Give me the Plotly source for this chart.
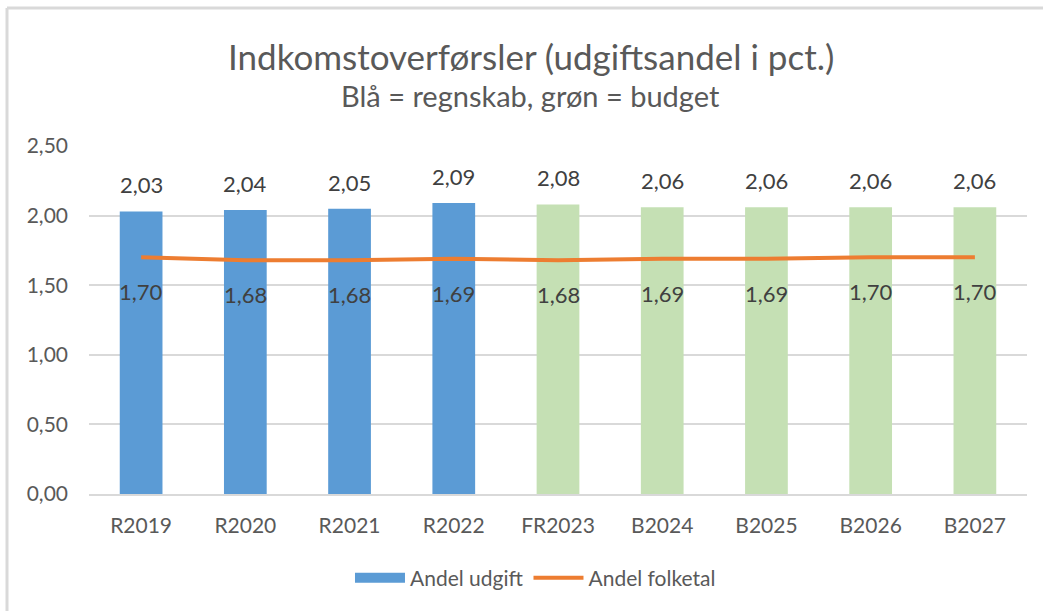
import plotly.graph_objects as go

categories = ["R2019", "R2020", "R2021", "R2022", "FR2023", "B2024", "B2025", "B2026", "B2027"]
andel_udgift = [2.03, 2.04, 2.05, 2.09, 2.08, 2.06, 2.06, 2.06, 2.06]
andel_folketal = [1.70, 1.68, 1.68, 1.69, 1.68, 1.69, 1.69, 1.70, 1.70]
y_ticks = [0.0, 0.5, 1.0, 1.5, 2.0, 2.5]

BLUE = "#5B9BD5"
GREEN = "#C5E0B4"
ORANGE = "#ED7D31"
FONT = "Lato, Carlito, Liberation Sans, sans-serif"

bar_colors = [BLUE if c.startswith("R") else GREEN for c in categories]

def fmt(v):
    return f"{v:.2f}".replace(".", ",")

fig = go.Figure()
fig.add_trace(go.Bar(
    x=categories, y=andel_udgift, name="Andel udgift",
    marker=dict(color=bar_colors, line=dict(width=0)),
    width=0.41, hoverinfo="skip", showlegend=False,
))
fig.add_trace(go.Scatter(
    x=[None], y=[None], name="Andel udgift", mode="lines",
    line=dict(color=BLUE, width=12), hoverinfo="skip",
))
fig.add_trace(go.Scatter(
    x=categories, y=andel_folketal, name="Andel folketal",
    mode="lines", line=dict(color=ORANGE, width=4),
    hoverinfo="skip",
))

annotations = []
for c, v in zip(categories, andel_udgift):
    annotations.append(dict(x=c, y=v, xref="x", yref="y", text=fmt(v), showarrow=False,
                            yanchor="bottom", yshift=11,
                            font=dict(family=FONT, size=22, color="#404040")))
for c, v in zip(categories, andel_folketal):
    annotations.append(dict(x=c, y=v, xref="x", yref="y", text=fmt(v), showarrow=False,
                            yanchor="top", yshift=-19,
                            font=dict(family=FONT, size=22, color="#404040")))
annotations.append(dict(x=0.471, y=1.0 + (146 - 56) / 348, xref="paper", yref="paper",
                        text="Indkomstoverførsler (udgiftsandel i pct.)", showarrow=False,
                        xanchor="center", yanchor="middle",
                        font=dict(family=FONT, size=35, color="#595959")))
annotations.append(dict(x=0.471, y=1.0 + (146 - 96) / 348, xref="paper", yref="paper",
                        text="Blå = regnskab, grøn = budget", showarrow=False,
                        xanchor="center", yanchor="middle",
                        font=dict(family=FONT, size=29, color="#595959")))

shapes = [
    dict(type="line", xref="paper", yref="paper", x0=(7 - 89) / 938, x1=(1043 - 89) / 938,
         y0=1 + (146 - 8) / 348, y1=1 + (146 - 8) / 348, line=dict(color="#D9D9D9", width=3)),
    dict(type="line", xref="paper", yref="paper", x0=(7 - 89) / 938, x1=(7 - 89) / 938,
         y0=1 + (146 - 8) / 348, y1=1 - (611 - 146) / 348, line=dict(color="#D9D9D9", width=3)),
]

fig.update_layout(
    width=1045, height=611,
    margin=dict(l=89, r=18, t=146, b=117),
    paper_bgcolor="white", plot_bgcolor="white",
    separators=",.",
    font=dict(family=FONT, color="#595959", size=20),
    showlegend=True,
    legend=dict(orientation="h", x=0.476, xanchor="center", y=1 - (578 - 146) / 348,
                yanchor="middle", font=dict(family=FONT, size=21, color="#595959"),
                itemwidth=50, traceorder="normal"),
    annotations=annotations,
    shapes=shapes,
    bargap=0.59,
)
fig.update_xaxes(showgrid=False, showline=True, linecolor="#D9D9D9", linewidth=2,
                 ticks="", ticklabelstandoff=12,
                 tickfont=dict(family=FONT, size=21, color="#595959"),
                 range=[-0.5, len(categories) - 0.5])
fig.update_yaxes(range=[0, 2.5], tickvals=y_ticks, tickformat=".2f",
                 showgrid=True, gridcolor="#D9D9D9", gridwidth=2, zeroline=False,
                 showline=False, ticks="", ticklabelstandoff=20,
                 tickfont=dict(family=FONT, size=21, color="#595959"))

fig.write_html("out.html", config={"displayModeBar": False},
               post_script="document.body.style.margin='0px';")
